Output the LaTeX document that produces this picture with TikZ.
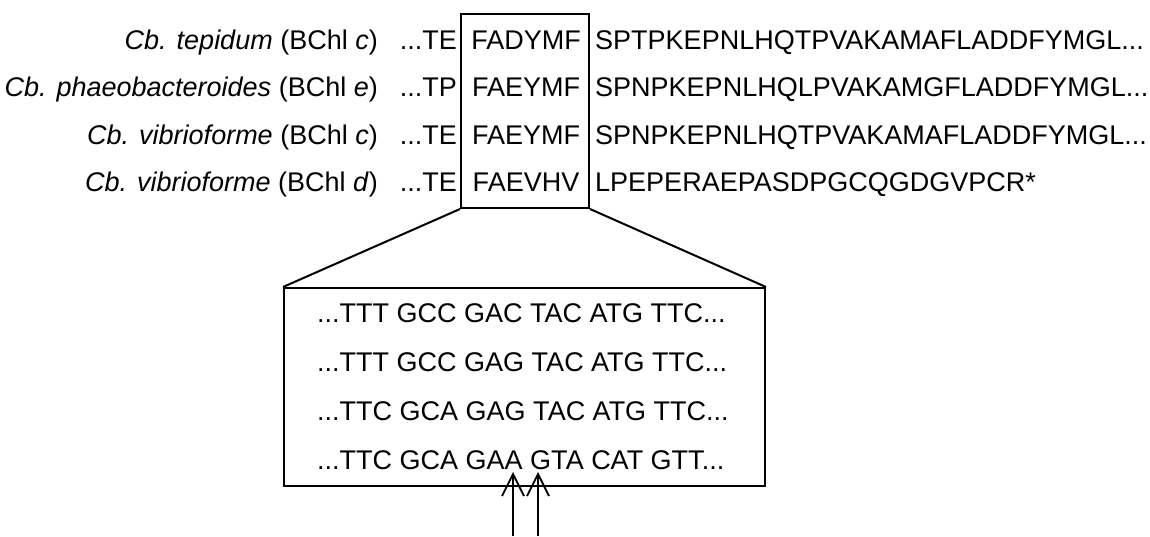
\documentclass[tikz,border=0pt]{standalone}
\usepackage{fontspec}
\setmainfont{Liberation Sans}
\usetikzlibrary{arrows.meta}
\begin{document}
\begin{tikzpicture}[x=1pt,y=-1pt,
  txt/.style={inner sep=0pt, font=\fontsize{27}{32}\selectfont},
  frame/.style={draw=black, line width=2pt, inner sep=0pt},
  link/.style={draw=black, line width=2pt},
  ptr/.style={draw=black, line width=1.8pt, -{Straight Barb[length=22pt,width=22pt,line width=1.8pt]}}]
\useasboundingbox (0,0) rectangle (1150,536);
% boxes
\node[frame, minimum width=128pt, minimum height=194pt, anchor=north west] (topbox) at (460,13) {};
\node[frame, minimum width=481pt, minimum height=198pt, anchor=north west] (lowbox) at (283,287) {};
\draw[link] (topbox.south west) -- (lowbox.north west);
\draw[link] (topbox.south east) -- (lowbox.north east);
% species labels
\node[txt, anchor=base east] (l1) at (378,49) {\textit{Cb. tepidum} (BChl \textit{c})};
\node[txt, anchor=base east] (l2) at (378,96.5) {\textit{Cb. phaeobacteroides} (BChl \textit{e})};
\node[txt, anchor=base east] (l3) at (378,144) {\textit{Cb. vibrioforme} (BChl \textit{c})};
\node[txt, anchor=base east] (l4) at (378,191.5) {\textit{Cb. vibrioforme} (BChl \textit{d})};
% preceding residues
\node[txt, anchor=base east] (p1) at (457,49) {...TE};
\node[txt, anchor=base east] (p2) at (457,96.5) {...TP};
\node[txt, anchor=base east] (p3) at (457,144) {...TE};
\node[txt, anchor=base east] (p4) at (457,191.5) {...TE};
% motifs
\node[txt, anchor=base] (m1) at (526,49) {FADYMF};
\node[txt, anchor=base] (m2) at (526,96.5) {FAEYMF};
\node[txt, anchor=base] (m3) at (526,144) {FAEYMF};
\node[txt, anchor=base] (m4) at (526,191.5) {FAEVHV};
% following sequences
\node[txt, anchor=base west] (s1) at (595,49) {SPTPKEPNLHQTPVAKAMAFLADDFYMGL...};
\node[txt, anchor=base west] (s2) at (595,96.5) {SPNPKEPNLHQLPVAKAMGFLADDFYMGL...};
\node[txt, anchor=base west] (s3) at (595,144) {SPNPKEPNLHQTPVAKAMAFLADDFYMGL...};
\node[txt, anchor=base west] (s4) at (595,191.5) {LPEPERAEPASDPGCQGDGVPCR*};
% DNA
\node[txt, anchor=base west] (d1) at (317,322.7) {...TTT GCC GAC TAC ATG TTC...};
\node[txt, anchor=base west] (d2) at (317,371.7) {...TTT GCC GAG TAC ATG TTC...};
\node[txt, anchor=base west] (d3) at (317,420.7) {...TTC GCA GAG TAC ATG TTC...};
\node[txt, anchor=base west] (d4) at (317,469.7) {...TTC GCA GAA GTA CAT GTT...};
% arrows
\coordinate (a1s) at (513,536);
\coordinate (a1e) at (513,472);
\coordinate (a2s) at (538,536);
\coordinate (a2e) at (538,472);
\draw[ptr] (a1s) -- (a1e);
\draw[ptr] (a2s) -- (a2e);
\end{tikzpicture}
\end{document}
